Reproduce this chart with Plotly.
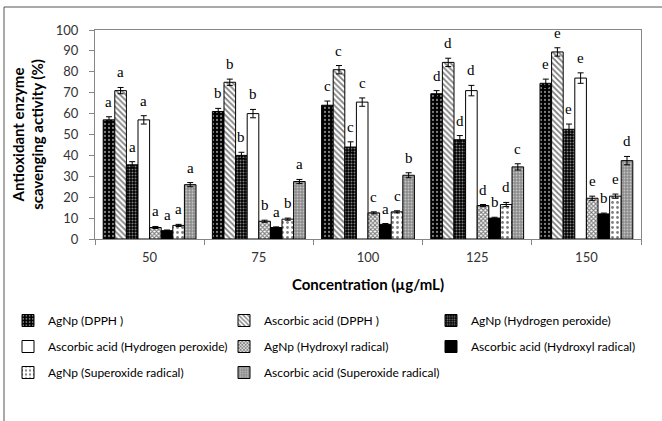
import plotly.graph_objects as go

categories = [50, 75, 100, 125, 150]
category_labels = ["50", "75", "100", "125", "150"]

series_names = [
    "AgNp (DPPH )",
    "Ascorbic acid (DPPH )",
    "AgNp (Hydrogen peroxide)",
    "Ascorbic acid (Hydrogen peroxide)",
    "AgNp (Hydroxyl radical)",
    "Ascorbic acid (Hydroxyl radical)",
    "AgNp (Superoxide radical)",
    "Ascorbic acid (Superoxide radical)",
]

agnp_dpph = [57, 61, 64, 69.5, 74.5]
asc_dpph = [71, 75, 81, 84.5, 89.5]
agnp_h2o2 = [35.5, 40, 44, 47.5, 52.5]
asc_h2o2 = [57, 60, 65.5, 71, 77]
agnp_oh = [5.5, 8.5, 12.5, 16, 19.5]
asc_oh = [4, 5.5, 7, 10, 12]
agnp_so = [6.5, 9.5, 13, 16.5, 20.5]
asc_so = [26, 27.5, 30.5, 34.5, 37.5]

err_agnp_dpph = [1.5, 1.5, 2, 1.5, 2]
err_asc_dpph = [1.5, 1.5, 2, 2, 2]
err_agnp_h2o2 = [1.5, 1.5, 2.5, 2, 2.5]
err_asc_h2o2 = [2, 2, 2, 2.5, 2.5]
err_agnp_oh = [0.5, 0.5, 0.5, 0.5, 1]
err_asc_oh = [0.3, 0.3, 0.4, 0.4, 0.4]
err_agnp_so = [0.5, 0.5, 0.5, 1, 1]
err_asc_so = [1, 1, 1.2, 1.5, 2]

letters_agnp_dpph = ["a", "b", "c", "d", "e"]
letters_asc_dpph = ["a", "b", "c", "d", "e"]
letters_agnp_h2o2 = ["a", "b", "c", "d", "e"]
letters_asc_h2o2 = ["a", "b", "c", "d", "e"]
letters_agnp_oh = ["a", "b", "c", "d", "e"]
letters_asc_oh = ["a", "a", "a", "b", "b"]
letters_agnp_so = ["a", "b", "c", "d", "e"]
letters_asc_so = ["a", "a", "b", "c", "d"]

values = [agnp_dpph, asc_dpph, agnp_h2o2, asc_h2o2, agnp_oh, asc_oh, agnp_so, asc_so]
errors = [err_agnp_dpph, err_asc_dpph, err_agnp_h2o2, err_asc_h2o2,
          err_agnp_oh, err_asc_oh, err_agnp_so, err_asc_so]
letters = [letters_agnp_dpph, letters_asc_dpph, letters_agnp_h2o2, letters_asc_h2o2,
           letters_agnp_oh, letters_asc_oh, letters_agnp_so, letters_asc_so]

patterns = [
    dict(shape=".", bgcolor="black", fgcolor="white", size=4, solidity=0.25),
    dict(shape="\\", bgcolor="white", fgcolor="black", size=4, solidity=0.45),
    dict(shape=".", bgcolor="black", fgcolor="white", size=3, solidity=0.35),
    None,
    dict(shape="x", bgcolor="white", fgcolor="black", size=3, solidity=0.6),
    None,
    dict(shape=".", bgcolor="white", fgcolor="black", size=5, solidity=0.25),
    dict(shape=".", bgcolor="#8c8c8c", fgcolor="white", size=3, solidity=0.3),
]
colors = ["black", "white", "black", "white", "white", "black", "white", "#8c8c8c"]

W, H = 662, 421
ML, MR, MT, MB = 95, 21, 30, 182
PW = W - ML - MR
PH = H - MT - MB

# legend grid (pixel positions of each legend box: 3 columns, 3 rows)
legend_cols_px = [8, 224, 431]
legend_rows_px = [306, 332, 358]

step = categories[1] - categories[0]
x_range = [categories[0] - step / 2, categories[-1] + step / 2]
boundaries = [categories[0] - step / 2 + k * step for k in range(len(categories) + 1)]

fig = go.Figure()
legend_layout = {}
for i, name in enumerate(series_names):
    marker = dict(color=colors[i], line=dict(color="black", width=1))
    if patterns[i] is not None:
        marker["pattern"] = patterns[i]
    lid = "legend" if i == 0 else f"legend{i + 1}"
    fig.add_trace(go.Bar(
        x=categories, y=values[i], name=name, marker=marker, legend=lid,
        error_y=dict(type="data", array=errors[i], color="black", thickness=1, width=3),
    ))
    col, row = i % 3, i // 3
    legend_layout[lid] = dict(
        orientation="h",
        x=(legend_cols_px[col] - ML) / PW, xanchor="left",
        y=(MT + PH - legend_rows_px[row]) / PH, yanchor="top",
        font=dict(family="Lato", size=12, color="black"),
        itemwidth=30, bgcolor="rgba(0,0,0,0)",
    )

bargap = 0.15
nser = len(series_names)
cat_px = PW / len(categories)
bar_px = cat_px * (1 - bargap) / nser
for i in range(nser):
    for j, c in enumerate(categories):
        fig.add_annotation(
            x=c, y=values[i][j] + errors[i][j], text=letters[i][j],
            xref="x", yref="y", showarrow=False, yanchor="bottom",
            xshift=(i - (nser - 1) / 2) * bar_px, yshift=5,
            font=dict(family="Liberation Serif", size=15, color="black"),
        )

fig.add_shape(type="rect", xref="paper", yref="paper",
              x0=(4 - ML) / PW, x1=(700 - ML) / PW,
              y0=(MT + PH - 440) / PH, y1=(MT + PH - 7) / PH,
              line=dict(color="#555555", width=1), fillcolor="rgba(0,0,0,0)", layer="below")

fig.update_layout(
    width=W, height=H,
    margin=dict(l=ML, r=MR, t=MT, b=MB, autoexpand=False),
    barmode="group", bargap=bargap, bargroupgap=0,
    plot_bgcolor="white", paper_bgcolor="white",
    font=dict(family="Lato", size=13, color="#404040"),
    showlegend=True,
    xaxis=dict(
        type="linear", range=x_range,
        tickvals=categories, ticktext=category_labels, ticks="",
        minor=dict(tickvals=boundaries, ticks="outside", ticklen=5, tickcolor="#868686", showgrid=False),
        showline=True, linecolor="#868686", linewidth=1, mirror=True,
        tickfont=dict(family="Lato", size=13, color="#333333"),
        ticklabelstandoff=6,
        title=dict(text="<b>Concentration (µg/mL)</b>", standoff=15,
                   font=dict(family="Lato", size=15, color="black")),
        showgrid=False, zeroline=False,
    ),
    yaxis=dict(
        range=[0, 100], dtick=10, showline=True, linecolor="#868686", linewidth=1, mirror=True,
        ticks="outside", ticklen=5, tickcolor="#868686",
        tickfont=dict(family="Lato", size=13, color="#333333"),
        ticklabelstandoff=8,
        title=dict(text="<b>Antioxidant enzyme<br>scavenging activity (%)</b>", standoff=8,
                   font=dict(family="Lato", size=15, color="black")),
        showgrid=False, zeroline=False,
    ),
    **legend_layout,
)

fig.write_html("out.html")
